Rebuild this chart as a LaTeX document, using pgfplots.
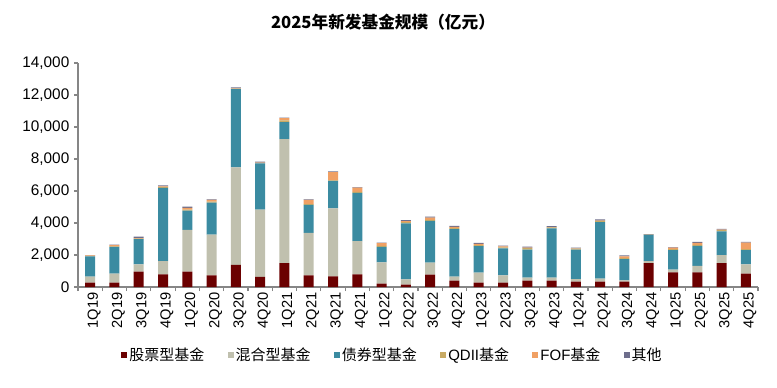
\documentclass[border=0pt]{standalone}
\usepackage{pgfplots}
\pgfplotsset{compat=1.18}
\usepackage{pgfplotstable}
\usepackage{fontspec}
\setmainfont{Liberation Sans}
\newfontfamily\cjk{Noto Sans CJK SC}
\definecolor{cstock}{RGB}{107,0,0}
\definecolor{cmixed}{RGB}{192,192,174}
\definecolor{cbond}{RGB}{59,139,161}
\definecolor{cqdii}{RGB}{200,170,100}
\definecolor{cfof}{RGB}{240,160,100}
\definecolor{cother}{RGB}{110,110,140}
\definecolor{caxis}{RGB}{134,134,134}

\pgfplotstableread{
x stock mixed bond qdii fof other
0 270 380 1270 20 40 20
1 270 565 1670 40 80 25
2 960 460 1565 40 30 95
3 790 820 4590 50 40 60
4 960 2610 1210 60 110 80
5 730 2550 2000 60 110 30
6 1380 6090 4890 40 20 60
7 630 4210 2880 40 20 50
8 1500 7750 1060 100 150 20
9 730 2650 1760 40 260 30
10 670 4240 1730 20 520 40
11 790 2070 3030 50 270 30
12 210 1330 965 60 170 40
13 150 330 3490 80 60 70
14 770 750 2610 60 150 60
15 400 250 2960 90 60 60
16 270 630 1650 70 80 60
17 270 460 1690 50 70 50
18 400 185 1755 90 30 70
19 400 185 3085 50 20 60
20 330 170 1840 60 10 50
21 330 190 3530 80 20 70
22 330 90 1330 60 100 70
23 1500 110 1650 20 0 30
24 920 170 1210 70 90 40
25 920 395 1255 60 130 60
26 1500 500 1470 80 30 50
27 835 585 880 60 420 40
}\data

\begin{document}
\begin{tikzpicture}[x=0.75pt,y=0.75pt]
\path[use as bounding box] (0,0) rectangle (777,387);
\node at (383,365) {\cjk\bfseries\fontsize{12.5}{15}\selectfont 2025年新发基金规模（亿元）};
\begin{axis}[
  at={(58.5pt,75pt)}, anchor=south west,
  scale only axis, width=510pt, height=168pt,
  ybar stacked, bar width=7.5pt,
  xmin=-0.5, xmax=27.5, ymin=0, ymax=14000,
  axis lines*=left,
  axis line style={draw=caxis, line width=0.8pt},
  tick style={draw=caxis, line width=0.8pt},
  tick align=outside, major tick length=3pt,
  xtick={-0.5,0.5,...,27.5},
  x tick label as interval,
  xticklabels={1Q19,2Q19,3Q19,4Q19,1Q20,2Q20,3Q20,4Q20,1Q21,2Q21,3Q21,4Q21,1Q22,2Q22,3Q22,4Q22,1Q23,2Q23,3Q23,4Q23,1Q24,2Q24,3Q24,4Q24,1Q25,2Q25,3Q25,4Q25},
  xticklabel style={rotate=90, anchor=east, font=\fontsize{11}{12}\selectfont, inner sep=1pt, yshift=-3pt},
  ytick={0,2000,...,14000},
  scaled y ticks=false,
  yticklabel style={font=\fontsize{11.5}{12}\selectfont, /pgf/number format/.cd, fixed, 1000 sep={,}, assume math mode=true},
  every axis plot/.append style={draw=none},
  legend columns=6,
  legend image code/.code={\fill[#1, draw=none] (0pt,-2.6pt) rectangle (4.5pt,1.9pt);},
  legend style={at={(0.4625,-0.3036)}, anchor=center, draw=none, fill=none,
    font=\fontsize{11.25}{13}\selectfont, inner sep=0pt,
    /tikz/every even column/.append style={column sep=16pt},
    nodes={inner sep=1.5pt}},
]
\addplot[fill=cstock] table[x=x,y=stock]{\data};
\addlegendentry{{\cjk 股票型基金}}
\addplot[fill=cmixed] table[x=x,y=mixed]{\data};
\addlegendentry{{\cjk 混合型基金}}
\addplot[fill=cbond] table[x=x,y=bond]{\data};
\addlegendentry{{\cjk 债券型基金}}
\addplot[fill=cqdii] table[x=x,y=qdii]{\data};
\addlegendentry{QDII{\cjk 基金}}
\addplot[fill=cfof] table[x=x,y=fof]{\data};
\addlegendentry{FOF{\cjk 基金}}
\addplot[fill=cother] table[x=x,y=other]{\data};
\addlegendentry{{\cjk 其他}}
\end{axis}
\end{tikzpicture}
\end{document}
